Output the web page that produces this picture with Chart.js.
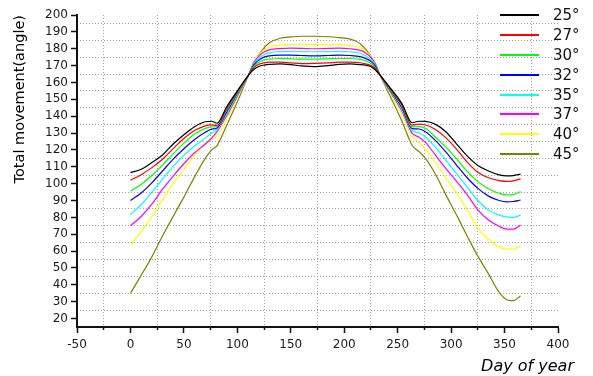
<!DOCTYPE html>
<html>
<head>
<meta charset="utf-8">
<script src="https://cdn.jsdelivr.net/npm/chart.js@4.4.0/dist/chart.umd.min.js"></script>
<style>
    body { margin: 0; background: #fff; }
    #wrap { position: relative; width: 593px; height: 376px; }
    #legend { position: absolute; left: 500px; top: 5px; font-family: "DejaVu Sans", sans-serif; font-size: 15px; color: #111; }
    #legend .row { display: flex; align-items: center; height: 19.9px; }
    #legend .swatch { width: 39px; height: 2px; margin-right: 14px; }
</style>
</head>
<body>
<div id="wrap">
    <canvas id="myChart"></canvas>
    <div id="legend"></div>
</div>
<script>
// days of the year where the curves were read
let days = [0, 10, 20, 30, 40, 50, 60, 70, 76, 81,
    90, 100, 110.5, 115, 120, 125, 130, 140, 150, 160,
    172, 185, 195, 205, 215, 220, 225, 229, 233.5, 244,
    254, 263.5, 270, 276, 285, 295, 305, 315, 325, 335,
    345, 352, 358, 365];

// total movement (angle) per tilt
let s25 = [106.5, 108.5, 112.5, 117, 123.5, 129, 133.8, 136.7, 137, 135.8,
    145.5, 155, 164.4, 167.5, 169.5, 170.3, 170.7, 171, 170.6, 169.8,
    169.4, 170, 170.7, 171, 170.6, 170.2, 169.3, 167.5, 164.4, 156,
    147.5, 136.1, 137, 136.9, 135.3, 130.8, 123.6, 116.5, 110.8, 107.5,
    105.2, 104.6, 104.8, 105.6];
let s27 = [102, 105.3, 109.5, 114.5, 120.8, 126.8, 131.5, 134.3, 134.8, 134.5,
    144.3, 154.5, 164.4, 168.5, 170.8, 171.7, 172, 172, 171.6, 171.2,
    171.3, 171.6, 172, 172, 171.7, 171, 170, 168.3, 164.4, 155.5,
    146.5, 134.7, 135.3, 134.8, 132.3, 127.3, 120.5, 112.8, 106.8, 103.5,
    101.8, 101.3, 101.6, 102.8];
let s30 = [95.5, 99.5, 104.8, 111, 117.7, 124, 129.5, 132.8, 133.7, 134,
    143.5, 154, 164.4, 169.3, 172, 173.3, 173.8, 174.2, 174, 173.8,
    173.8, 174, 174.2, 174.2, 173.7, 172.8, 171.3, 169, 164.4, 155,
    146, 133.7, 133.8, 132.8, 127.7, 121.8, 114.8, 107.3, 101.2, 97,
    94.3, 93.3, 93.5, 95.3];
let s32 = [90, 94.5, 100.5, 107.5, 114.5, 120.7, 126.2, 130.5, 132.3, 133,
    142.5, 153.5, 164.4, 170, 173.2, 175, 175.8, 176.2, 176.2, 176,
    175.8, 176, 176.2, 176, 175.3, 174.2, 172.5, 169.8, 164.4, 154.5,
    145, 132.6, 132.4, 130.8, 125.8, 118.8, 111, 103.5, 97.2, 92.6,
    90, 89.2, 89.4, 90.3];
let s35 = [81.7, 87.5, 94.8, 102.7, 110.2, 116.8, 122.3, 127, 130, 132,
    141.5, 152.8, 164.4, 170.7, 174.3, 176.6, 177.7, 178.3, 178.4, 178.3,
    178.2, 178.3, 178.4, 178.2, 177.3, 175.8, 173.5, 170.5, 164.4, 154,
    144, 131.5, 130, 127.5, 121.8, 114, 105.9, 98, 90, 84.3,
    81.3, 80.3, 80, 81.3];
let s37 = [75, 80.5, 87.8, 96.7, 104.5, 111.8, 118.3, 123.5, 127, 130.8,
    140.3, 152, 164.4, 171.3, 175.5, 178, 179.3, 180.1, 180.3, 180.2,
    180, 180.2, 180.3, 180, 179, 177.5, 174.8, 171.2, 164.4, 153.5,
    143, 129.9, 127.5, 124.5, 117.2, 109, 101.5, 93.5, 84.5, 78.5,
    74.7, 73, 73, 75.4];
let s40 = [63.5, 71.5, 80.5, 90.5, 100.2, 108.5, 116.5, 123.8, 126.3, 128,
    138.5, 151, 164.4, 171.8, 176.3, 179.2, 181, 182.2, 182.5, 182.6,
    182.6, 182.6, 182.4, 181.8, 180.5, 178.5, 175.5, 171.5, 164.4, 152.5,
    141, 127.9, 124.5, 120.5, 113, 103.5, 94.5, 84.5, 73.5, 67,
    62.5, 61.2, 61.2, 63.1];
let s45 = [35, 45.6, 56.6, 69, 80.6, 92, 104, 115, 120, 122.5,
    134.5, 148.5, 164.4, 171, 176.5, 180.5, 183.5, 186.2, 187, 187.4,
    187.4, 187.1, 186.6, 185.8, 183, 179.7, 175.5, 171, 164.4, 150.5,
    137, 122.8, 119, 115, 106, 93.5, 81.5, 69, 57, 46.5,
    35.5, 31.2, 30.6, 33.4];

let seriesNames = ['25°', '27°', '30°', '32°', '35°', '37°', '40°', '45°'];
let seriesValues = [s25, s27, s30, s32, s35, s37, s40, s45];
let seriesColors = ['#000000', '#ff0000', '#00ff00', '#0000ff', '#00ffff', '#ff00ff', '#ffff00', '#808000'];

// axis ticks (labelled) and the dotted grid positions (between them)
let xTicks = [-50, 0, 50, 100, 150, 200, 250, 300, 350, 400];
let xGrid = [-25, 25, 75, 125, 175, 225, 275, 325, 375];
let yTicks = [20, 30, 40, 50, 60, 70, 80, 90, 100, 110, 120, 130, 140, 150, 160, 170, 180, 190, 200];
let yGrid = [25, 35, 45, 55, 65, 75, 85, 95, 105, 115, 125, 135, 145, 155, 165, 175, 185, 195];


let tickFont = { family: 'DejaVu Sans', size: 12 };
let axisColor = '#111';
let dotColor = '#a0a0a0';
let asTicks = arr => arr.map(v => ({ value: v }));

// "Day of year" sits right of the plot end, so draw it by hand
let xTitle = {
    id: 'xTitle',
    afterDraw(chart) {
        let ctx = chart.ctx;
        let area = chart.chartArea;
        ctx.save();
        ctx.font = 'italic 16px "DejaVu Sans"';
        ctx.fillStyle = '#000';
        ctx.textAlign = 'right';
        ctx.textBaseline = 'alphabetic';
        ctx.fillText('Day of year', area.right + 16, area.bottom + 44);
        ctx.restore();
    }
};

let ctx = document.getElementById('myChart').getContext('2d');
let chart = new Chart(ctx, {
    type: 'line',
    data: {
        datasets: seriesNames.map((name, i) => ({
            label: name,
            data: days.map((d, j) => ({ x: d, y: seriesValues[i][j] })),
            borderColor: seriesColors[i],
            backgroundColor: seriesColors[i],
            borderWidth: 1.2,
            pointRadius: 0,
            cubicInterpolationMode: 'monotone',
            fill: false
        }))
    },
    options: {
        responsive: true,
        maintainAspectRatio: false,
        animation: false,
        layout: { padding: { left: 0, right: 35, top: 15, bottom: 0 } },
        plugins: { legend: { display: false }, tooltip: { enabled: false } },
        scales: {
            x: {
                type: 'linear', position: 'bottom', weight: 1, min: -50, max: 400,
                afterBuildTicks: s => { s.ticks = asTicks(xTicks); },
                afterFit: s => { s.height = 49; },
                ticks: { font: tickFont, color: '#1a1a1a', padding: 5, autoSkip: false, maxRotation: 0 },
                grid: { drawOnChartArea: false, tickLength: 6, tickColor: axisColor, tickWidth: 1.5 },
                border: { color: axisColor, width: 2 }
            },
            xg: {
                type: 'linear', position: 'bottom', weight: 0, min: -50, max: 400,
                afterBuildTicks: s => { s.ticks = asTicks(xGrid); },
                afterFit: s => { s.height = 0; },
                ticks: { display: false },
                grid: { color: dotColor, lineWidth: 1, tickLength: 3, tickColor: axisColor, tickWidth: 1.5 },
                border: { display: false, dash: [1, 2] }
            },
            y: {
                type: 'linear', position: 'left', weight: 1, min: 15, max: 200,
                afterBuildTicks: s => { s.ticks = asTicks(yTicks); },
                afterFit: s => { s.width = 77; },
                ticks: { font: tickFont, color: '#1a1a1a', padding: 3, autoSkip: false },
                grid: { drawOnChartArea: false, tickLength: 6, tickColor: axisColor, tickWidth: 1.5 },
                border: { color: axisColor, width: 2 },
                title: {
                    display: true, text: 'Total movement(angle)', align: 'end', color: '#000',
                    font: { family: 'DejaVu Sans', size: 14.5 }, padding: { top: 12, bottom: 0 }
                }
            },
            yg: {
                type: 'linear', position: 'left', weight: 0, min: 15, max: 200,
                afterBuildTicks: s => { s.ticks = asTicks(yGrid); },
                afterFit: s => { s.width = 0; },
                ticks: { display: false },
                grid: { color: dotColor, lineWidth: 1, drawTicks: false },
                border: { display: false, dash: [1, 2] }
            }
        }
    },
    plugins: [xTitle]
});

// legend in the top right corner, over the plot
let legendBox = document.getElementById('legend');
seriesNames.forEach((name, i) => {
    let row = document.createElement('div');
    row.className = 'row';
    row.innerHTML = '<span class="swatch" style="background:' + seriesColors[i] + '"></span><span>' + name + '</span>';
    legendBox.appendChild(row);
});
</script>
</body>
</html>
